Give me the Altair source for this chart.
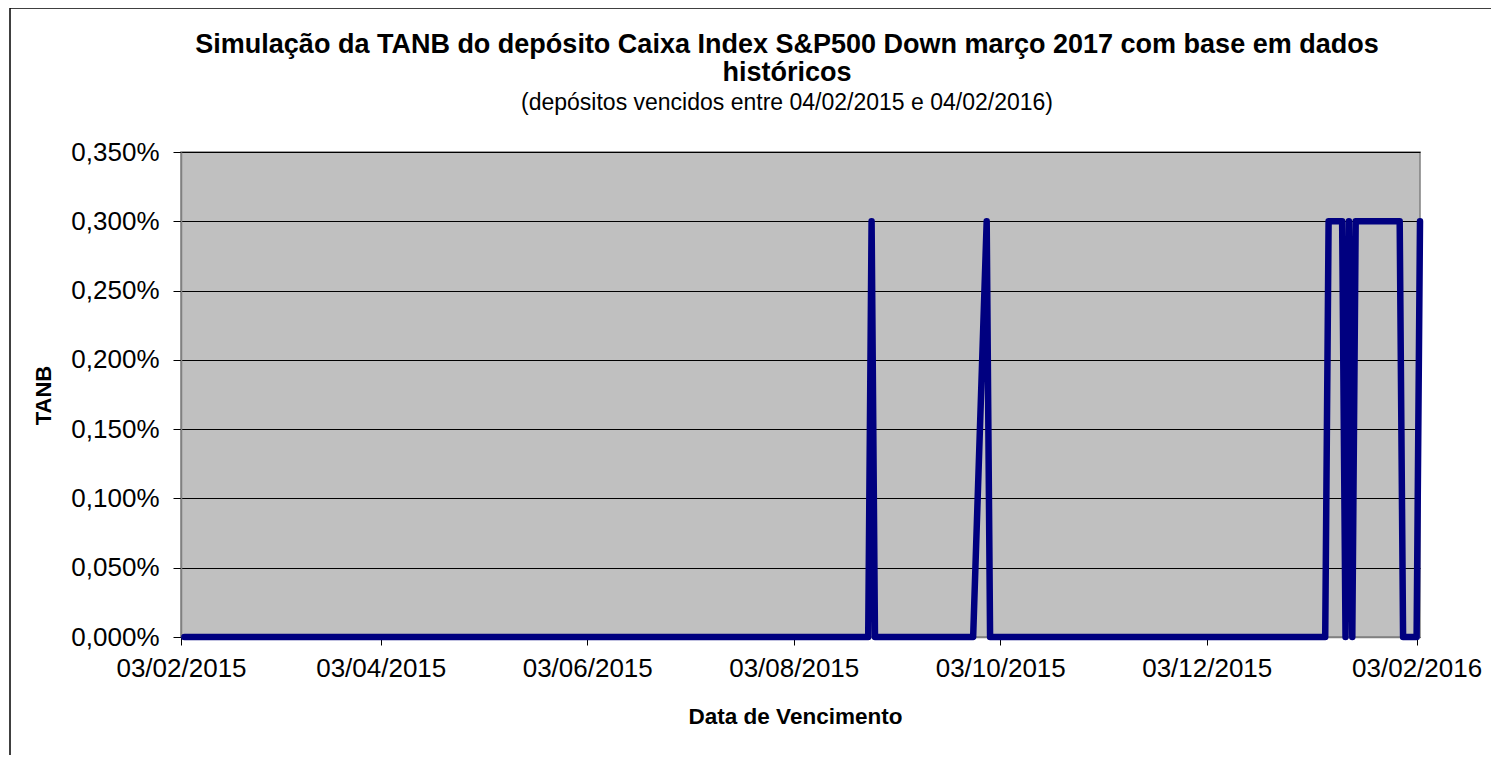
import altair as alt
import pandas as pd

# --- data (vertices of the TANB series; value is a fraction, 0.003 = 0.300%) ---
dates = [
    "2015-02-04", "2015-08-25", "2015-08-26", "2015-08-27",
    "2015-09-25", "2015-09-29", "2015-09-30",
    "2016-01-07", "2016-01-08", "2016-01-12", "2016-01-13", "2016-01-14",
    "2016-01-15", "2016-01-16", "2016-01-29", "2016-01-30",
    "2016-02-03", "2016-02-04",
]
tanb = [
    0.0, 0.0, 0.003, 0.0,
    0.0, 0.003, 0.0,
    0.0, 0.003, 0.003, 0.0, 0.003,
    0.0, 0.003, 0.003, 0.0,
    0.0, 0.003,
]
y_ticks = [0, 0.0005, 0.001, 0.0015, 0.002, 0.0025, 0.003, 0.0035]
x_ticks = [(2015, 2, 3), (2015, 4, 3), (2015, 6, 3), (2015, 8, 3),
           (2015, 10, 3), (2015, 12, 3), (2016, 2, 3)]

title_line1 = "Simulação da TANB do depósito Caixa Index S&P500 Down março 2017 com base em dados"
title_line2 = "históricos"
subtitle = "(depósitos vencidos entre 04/02/2015 e 04/02/2016)"

df = pd.DataFrame({"date": dates, "tanb": tanb})

FONT = "Liberation Sans"
W, H = 1239, 485


def dt(y, m, d):
    return alt.DateTime(year=y, month=m, date=d, utc=True)


line = alt.Chart(df).mark_line(
    color="#000080", strokeWidth=6.5, strokeJoin="round", strokeCap="round"
).encode(
    x=alt.X(
        "date:T",
        scale=alt.Scale(type="utc", domain=[dt(2015, 2, 3), dt(2016, 2, 4)]),
        axis=alt.Axis(
            values=[dt(*t) for t in x_ticks],
            format="%d/%m/%Y",
            title="Data de Vencimento",
            labelFlush=False,
            labelOverlap=False,
            grid=False,
            tickSize=8,
            tickColor="#000000",
            domainColor="#808080",
            domainWidth=1.5,
            labelFontSize=26,
            labelFont=FONT,
            labelColor="#000000",
            labelPadding=10,
            titleFont=FONT,
            titleFontSize=22.5,
            titleFontWeight="bold",
            titleColor="#000000",
            titleX=614,
            titleY=86,
            titleBaseline="alphabetic",
        ),
    ),
    y=alt.Y(
        "tanb:Q",
        scale=alt.Scale(domain=[0, 0.0035], nice=False, zero=True),
        axis=alt.Axis(
            values=y_ticks,
            labelExpr="replace(format(datum.value, '.3%'), '.', ',')",
            title="TANB",
            grid=True,
            gridColor="#000000",
            gridWidth=1,
            tickSize=8,
            tickColor="#000000",
            domainColor="#808080",
            domainWidth=1.5,
            labelFontSize=26,
            labelFont=FONT,
            labelColor="#000000",
            labelPadding=14,
            titleFont=FONT,
            titleFontSize=22,
            titleFontWeight="bold",
            titleColor="#000000",
            titleX=-126,
            titleY=243,
            titleBaseline="bottom",
        ),
    ),
)

frame_df = pd.DataFrame({"k": [0]})
border_left = alt.Chart(frame_df).mark_rule(color="#000000", strokeWidth=1.5).encode(
    x=alt.value(-171), y=alt.value(-144), y2=alt.value(620)
)
border_top = alt.Chart(frame_df).mark_rule(color="#000000", strokeWidth=1.5).encode(
    x=alt.value(-171), x2=alt.value(1330), y=alt.value(-144)
)

TX = 787 - 181
t1 = alt.Chart(frame_df).mark_text(
    text=title_line1, font=FONT, fontSize=27, fontWeight="bold", color="#000000",
    align="center", baseline="alphabetic",
).encode(x=alt.value(TX), y=alt.value(53 - 152))
t2 = alt.Chart(frame_df).mark_text(
    text=title_line2, font=FONT, fontSize=27, fontWeight="bold", color="#000000",
    align="center", baseline="alphabetic",
).encode(x=alt.value(TX), y=alt.value(81 - 152))
t3 = alt.Chart(frame_df).mark_text(
    text=subtitle, font=FONT, fontSize=23, color="#000000",
    align="center", baseline="alphabetic",
).encode(x=alt.value(TX), y=alt.value(110 - 152))

chart = alt.layer(line, border_left, border_top, t1, t2, t3).properties(
    width=W,
    height=H,
    autosize=alt.AutoSizeParams(type="none"),
    padding={"left": 173, "top": 144, "right": 71, "bottom": 118},
    background="#FFFFFF",
).configure_view(
    fill="#C0C0C0", stroke="#808080", strokeWidth=1.5
)

chart.save("out.html", embed_options={"renderer": "svg", "actions": False})
